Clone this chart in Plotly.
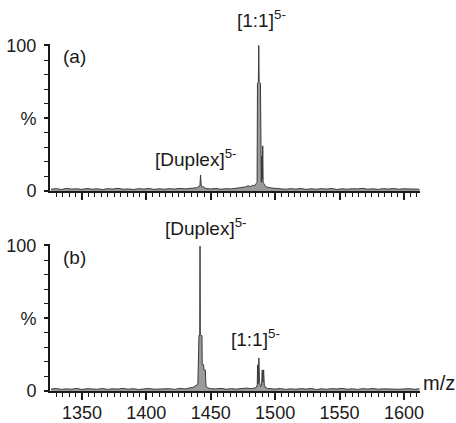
import plotly.graph_objects as go

# ---------------- data ----------------
# Panel (a): profile spectrum, m/z and relative intensity (%)
mz_a = [1326, 1330, 1334, 1338, 1342, 1346, 1350, 1354, 1358, 1362, 1366, 1370,
        1374, 1378, 1382, 1386, 1390, 1394, 1398, 1402, 1406, 1410, 1414, 1418,
        1422, 1426, 1430, 1434, 1437, 1439, 1440.8, 1441.6, 1442.1, 1442.6, 1443.3,
        1444.2, 1445.5, 1447, 1450, 1454, 1458, 1462, 1466, 1470, 1474, 1477, 1479,
        1481, 1482.5, 1484, 1485.2, 1486.0, 1486.3, 1487.0, 1487.3, 1487.6, 1488.6,
        1488.9, 1489.3, 1489.7, 1490.0, 1490.4, 1490.7, 1491.3, 1492.2, 1493.5,
        1496, 1500, 1504, 1508, 1512, 1516, 1520, 1524, 1528, 1532, 1536, 1540,
        1544, 1548, 1552, 1556, 1560, 1564, 1568, 1572, 1576, 1580, 1584, 1588,
        1592, 1596, 1600, 1604, 1608, 1612]
int_a = [1.2, 1.6, 1.0, 1.8, 1.3, 1.5, 1.1, 1.7, 1.2, 1.5, 1.0, 1.6,
         1.3, 1.8, 1.2, 1.4, 1.0, 1.6, 1.3, 1.7, 1.1, 1.5, 1.2, 1.6,
         1.3, 1.8, 1.4, 1.6, 1.9, 2.2, 3.0, 3.5, 11.0, 4.0, 2.8,
         3.0, 2.0, 1.6, 1.4, 1.7, 1.2, 1.6, 1.4, 1.9, 2.2, 2.8, 3.6,
         3.0, 4.0, 3.5, 5.0, 6.0, 74.0, 75.0, 100.0, 75.0, 74.0,
         10.0, 6.0, 24.0, 8.0, 31.0, 6.0, 5.0, 3.5, 2.8,
         2.2, 1.8, 1.5, 1.2, 1.6, 1.3, 1.7, 1.1, 1.5, 1.2, 1.6, 1.3,
         1.7, 1.0, 1.5, 1.2, 1.6, 1.4, 1.8, 1.2, 1.5, 1.1, 1.6, 1.3,
         1.7, 1.2, 1.5, 1.3, 1.6, 1.2]

# Panel (b)
mz_b = [1326, 1330, 1334, 1338, 1342, 1346, 1350, 1354, 1358, 1362, 1366, 1370,
        1374, 1378, 1382, 1386, 1390, 1394, 1398, 1402, 1406, 1410, 1414, 1418,
        1422, 1426, 1430, 1434, 1436.5, 1438.5, 1440.0, 1440.9, 1441.5, 1441.7,
        1441.9, 1443.2, 1443.4, 1444.5, 1444.7, 1445.8, 1446.3, 1447.5, 1450,
        1454, 1458, 1462, 1466, 1470, 1474, 1478, 1481, 1483, 1485, 1486.1,
        1486.4, 1486.8, 1487.4, 1487.9, 1488.6, 1489.5, 1490.0, 1490.5, 1491.1,
        1491.6, 1492.5, 1494, 1497, 1500, 1504, 1508, 1512, 1516, 1520, 1524,
        1528, 1532, 1536, 1540, 1544, 1548, 1552, 1556, 1560, 1564, 1568, 1572,
        1576, 1580, 1584, 1588, 1592, 1596, 1600, 1604, 1608, 1612]
int_b = [1.3, 1.7, 1.1, 1.5, 1.2, 1.8, 1.0, 1.6, 1.4, 1.2, 1.7, 1.1,
         1.5, 1.3, 1.8, 1.2, 1.6, 1.0, 1.4, 1.7, 1.2, 1.5, 1.3, 1.6,
         1.1, 1.8, 1.4, 1.9, 2.6, 3.8, 4.5, 38.5, 38.5, 99.5,
         38.5, 38.0, 18.0, 18.0, 14.5, 14.5, 3.5, 2.2, 1.6,
         1.4, 1.8, 1.2, 1.6, 1.3, 1.7, 2.0, 1.6, 1.8, 2.2, 4.0,
         18.0, 5.0, 22.7, 6.0, 3.0, 4.0, 14.5, 6.0, 14.5,
         4.0, 2.5, 1.8, 1.5, 1.3, 1.7, 1.1, 1.5, 1.2, 1.6, 1.3,
         1.7, 1.0, 1.5, 1.2, 1.6, 1.4, 1.8, 1.2, 1.5, 1.1, 1.6, 1.3,
         1.7, 1.2, 1.5, 1.3, 1.6, 1.2, 1.4, 1.6, 1.2, 1.5]

x_ticks = [1350, 1400, 1450, 1500, 1550, 1600]
y_tickvals = [0, 50, 100]
y_ticktext = ["0", "%", "100"]

# ---------------- figure ----------------
FONT = "Liberation Sans, Arial, sans-serif"
INK = "#1a1a1a"

fig = go.Figure()
for mz, inten, xa, ya in [(mz_a, int_a, "x", "y"), (mz_b, int_b, "x2", "y2")]:
    fig.add_trace(go.Scatter(
        x=mz, y=inten, xaxis=xa, yaxis=ya, mode="lines",
        line=dict(color="#3a3a3a", width=1),
        fill="tozeroy", fillcolor="#9a9a9a",
        hoverinfo="skip", showlegend=False))

x_range = [1325.2, 1612.5]
xcommon = dict(
    range=x_range, tickmode="array", tickvals=x_ticks,
    ticks="outside", ticklen=7, tickwidth=1.5, tickcolor=INK,
    minor=dict(tickmode="linear", tick0=1350, dtick=5, ticks="outside",
               ticklen=4, tickwidth=1, tickcolor=INK),
    showline=True, linewidth=2, linecolor=INK,
    showgrid=False, zeroline=False, automargin=False, ticklabelstandoff=-3,
    tickfont=dict(family=FONT, size=18, color=INK),
)
ycommon = dict(
    range=[0, 101], tickmode="array", tickvals=y_tickvals, ticktext=y_ticktext,
    ticks="outside", ticklen=4, tickwidth=1.5, tickcolor=INK,
    minor=dict(tickmode="linear", tick0=0, dtick=10, ticks="outside",
               ticklen=4, tickwidth=1, tickcolor=INK),
    showline=True, linewidth=2, linecolor=INK,
    showgrid=False, zeroline=False, ticklabelstandoff=4, automargin=False,
    tickfont=dict(family=FONT, size=18, color=INK),
)

fig.update_layout(
    width=456, height=423,
    margin=dict(l=50, r=36, t=44, b=32),
    paper_bgcolor="white", plot_bgcolor="white",
    font=dict(family=FONT, color=INK),
    xaxis=dict(anchor="y", domain=[0, 1], showticklabels=False, **xcommon),
    yaxis=dict(anchor="x", domain=[0.5764, 1], **ycommon),
    xaxis2=dict(anchor="y2", domain=[0, 1], showticklabels=True, **xcommon),
    yaxis2=dict(anchor="x2", domain=[0, 0.4236], **ycommon),
)

ann_font = dict(family=FONT, size=19, color=INK)
annotations = [
    dict(text="(a)", x=0.065, y=0.9654, xanchor="center", yanchor="middle"),
    dict(text="[1:1]<sup>5-</sup>", x=0.50, y=1.072, xanchor="left", yanchor="middle"),
    dict(text="[Duplex]<sup>5-</sup>", x=0.2784, y=0.6715, xanchor="left", yanchor="middle"),
    dict(text="(b)", x=0.065, y=0.384, xanchor="center", yanchor="middle"),
    dict(text="[Duplex]<sup>5-</sup>", x=0.3054, y=0.4726, xanchor="left", yanchor="middle"),
    dict(text="[1:1]<sup>5-</sup>", x=0.4838, y=0.1527, xanchor="left", yanchor="middle"),
    dict(text="m/z", x=1.003, y=0.023, xanchor="left", yanchor="middle",
         font=dict(family=FONT, size=20, color=INK)),
]
for a in annotations:
    a.setdefault("font", ann_font)
    a["showarrow"] = False
    a["xref"] = "paper"
    a["yref"] = "paper"
    fig.add_annotation(**a)

fig.write_html("out.html", config={"displayModeBar": False},
               post_script="document.body.style.margin='0';document.body.style.overflow='hidden';")
